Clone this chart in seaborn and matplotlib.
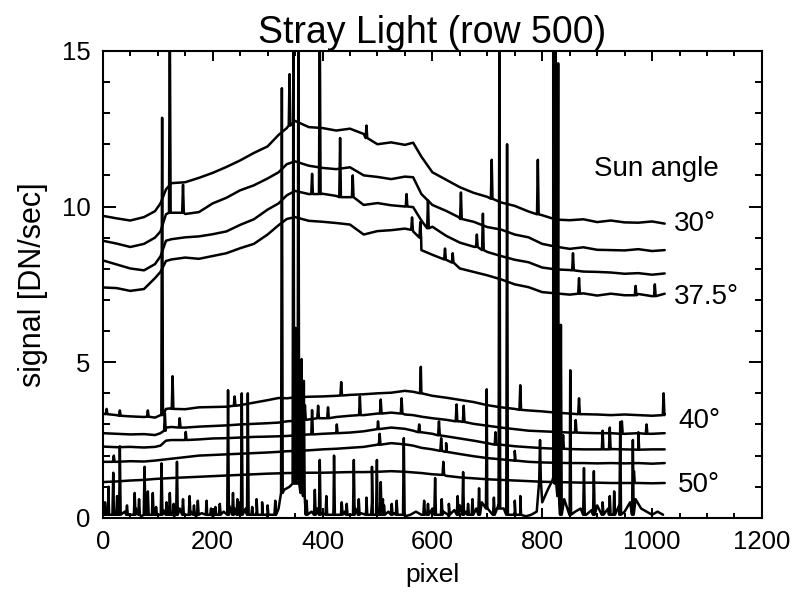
import numpy as np
import pandas as pd
import matplotlib
matplotlib.use("Agg")
import matplotlib.pyplot as plt
import seaborn as sns
from matplotlib.ticker import MultipleLocator

X_GRID = [0, 25, 50, 75, 95, 105, 115, 125, 150, 175, 200, 225, 250, 275, 300,
          320, 335, 350, 375, 400, 425, 450, 475, 500, 525, 550, 565, 580, 600,
          625, 650, 675, 700, 725, 750, 775, 800, 825, 850, 875, 900, 925, 950,
          975, 1000, 1023]

# signal [DN/sec] along row 500, one trace per sun angle (top to bottom)
S1 = [9.70, 9.62, 9.55, 9.66, 9.85, 10.10, 10.55, 10.75, 10.78, 10.92, 11.08, 11.27,
      11.48, 11.72, 11.93, 12.30, 12.52, 12.75, 12.55, 12.52, 12.44, 12.50, 12.33,
      12.00, 12.06, 11.98, 12.05, 11.60, 11.10, 10.86, 10.62, 10.44, 10.31, 10.13,
      10.02, 9.84, 9.72, 9.58, 9.56, 9.59, 9.50, 9.55, 9.49, 9.48, 9.52, 9.45]
S2 = [8.90, 8.81, 8.70, 8.80, 9.00, 9.20, 9.75, 9.80, 9.76, 9.82, 10.10, 10.28,
      10.52, 10.68, 10.90, 11.10, 11.36, 11.45, 11.31, 11.24, 11.20, 11.26, 11.00,
      10.95, 10.88, 10.96, 10.94, 10.40, 10.05, 9.86, 9.64, 9.51, 9.34, 9.26, 9.10,
      9.01, 8.80, 8.71, 8.64, 8.69, 8.61, 8.60, 8.59, 8.63, 8.57, 8.60]
S3 = [8.27, 8.14, 8.01, 7.95, 8.15, 8.40, 8.90, 8.95, 9.01, 9.04, 9.11, 9.20,
      9.41, 9.59, 9.90, 10.10, 10.36, 10.50, 10.40, 10.41, 10.34, 10.30, 10.05,
      10.11, 10.04, 10.00, 9.98, 9.55, 9.35, 9.06, 8.84, 8.71, 8.54, 8.41, 8.29,
      8.21, 8.04, 7.98, 7.96, 7.91, 7.90, 7.88, 7.84, 7.86, 7.81, 7.85]
S4 = [7.40, 7.38, 7.29, 7.35, 7.70, 7.90, 8.25, 8.30, 8.36, 8.32, 8.41, 8.50,
      8.66, 8.80, 9.10, 9.40, 9.60, 9.66, 9.54, 9.51, 9.47, 9.42, 9.10, 9.21,
      9.24, 9.29, 9.20, 8.60, 8.45, 8.29, 8.01, 7.90, 7.79, 7.66, 7.50, 7.41,
      7.25, 7.21, 7.17, 7.21, 7.14, 7.20, 7.15, 7.19, 7.12, 7.20]
S5 = [3.35, 3.30, 3.26, 3.24, 3.22, 3.30, 3.50, 3.52, 3.49, 3.55, 3.56, 3.57,
      3.62, 3.70, 3.78, 3.85, 3.84, 3.87, 3.89, 3.90, 3.92, 3.95, 3.97, 4.00,
      4.02, 4.08, 4.05, 4.00, 3.92, 3.86, 3.79, 3.72, 3.62, 3.55, 3.50, 3.45,
      3.42, 3.38, 3.35, 3.33, 3.32, 3.30, 3.32, 3.30, 3.28, 3.32]
S6 = [2.72, 2.70, 2.68, 2.69, 2.66, 2.72, 2.90, 2.92, 2.90, 2.93, 2.95, 2.97,
      3.00, 3.02, 3.04, 3.06, 3.10, 3.12, 3.16, 3.20, 3.24, 3.28, 3.30, 3.35,
      3.38, 3.32, 3.30, 3.25, 3.20, 3.15, 3.10, 3.02, 2.96, 2.90, 2.85, 2.80,
      2.78, 2.76, 2.74, 2.73, 2.72, 2.72, 2.70, 2.72, 2.70, 2.72]
S7 = [2.29, 2.27, 2.28, 2.26, 2.28, 2.32, 2.48, 2.50, 2.51, 2.52, 2.55, 2.56,
      2.58, 2.60, 2.61, 2.62, 2.63, 2.65, 2.68, 2.70, 2.72, 2.74, 2.78, 2.85,
      2.90, 2.86, 2.80, 2.75, 2.70, 2.62, 2.55, 2.48, 2.40, 2.35, 2.30, 2.27,
      2.24, 2.22, 2.21, 2.20, 2.20, 2.21, 2.20, 2.19, 2.20, 2.20]
S8 = [1.80, 1.80, 1.82, 1.81, 1.84, 1.86, 1.88, 1.90, 1.95, 2.00, 2.02, 2.04,
      2.06, 2.08, 2.10, 2.12, 2.14, 2.15, 2.17, 2.20, 2.22, 2.25, 2.28, 2.35,
      2.40, 2.36, 2.32, 2.25, 2.20, 2.12, 2.05, 1.98, 1.92, 1.88, 1.84, 1.80,
      1.78, 1.77, 1.76, 1.76, 1.75, 1.76, 1.75, 1.76, 1.74, 1.76]
S9 = [1.15, 1.17, 1.20, 1.22, 1.25, 1.26, 1.27, 1.28, 1.30, 1.32, 1.34, 1.36,
      1.38, 1.40, 1.42, 1.43, 1.44, 1.44, 1.45, 1.45, 1.46, 1.47, 1.47, 1.48,
      1.50, 1.48, 1.46, 1.44, 1.40, 1.35, 1.30, 1.27, 1.24, 1.22, 1.20, 1.18,
      1.16, 1.15, 1.14, 1.13, 1.13, 1.12, 1.12, 1.12, 1.11, 1.12]

# dark trace (no sun), read every 10 pixels
X_DARK = [0, 10, 20, 30, 40, 50, 60, 70, 80, 90, 100, 110, 120, 130, 140, 150,
          160, 170, 180, 190, 200, 210, 220, 230, 240, 250, 260, 270, 280, 290,
          300, 310, 320, 330, 340, 350, 360, 370, 380, 390, 400, 410, 420, 430,
          440, 450, 460, 470, 480, 490, 500, 510, 520, 530, 540, 550, 560, 570,
          580, 590, 600, 610, 620, 630, 640, 650, 660, 670, 680, 690, 700, 710,
          720, 730, 740, 750, 760, 770, 780, 790, 800, 810, 820, 830, 840, 850,
          860, 870, 880, 890, 900, 910, 920, 930, 940, 950, 960, 970, 980, 990,
          1000, 1010, 1020]
S10 = [0.10, 0.60, 0.30, 0.50, 0.20, 0.10, 0.30, 0.05, 0.20, 0.40, 0.10, 0.25,
       0.15, 0.05, 0.30, 0.10, 0.20, 0.05, 0.15, 0.10, 0.05, 0.10, 0.20, 0.40,
       0.30, 0.50, 0.30, 0.10, 0.20, 0.10, 0.05, 0.10, 0.30, 0.90, 1.00, 1.20,
       0.80, 0.30, 0.20, 0.30, 0.15, 0.10, 0.30, 0.10, 0.20, 0.10, 0.30, 0.15,
       0.30, 0.50, 0.40, 0.60, 0.20, 0.15, 0.10, 0.05, 0.10, 0.20, 0.10, 0.15,
       0.30, 0.10, 0.20, 0.05, 0.25, 0.40, 0.20, 0.10, 0.30, 0.50, 0.30, 0.10,
       0.40, 0.30, 0.10, 0.20, 0.15, 0.05, 0.10, 0.20, 0.50, 0.90, 1.30, 1.10,
       0.60, 0.30, 0.20, 0.30, 0.10, 0.25, 0.40, 0.20, 0.30, 0.15, 0.40, 0.20,
       0.50, 0.60, 0.30, 0.20, 0.10, 0.20, 0.10]

SERIES = ["s1", "s2", "s3", "s4", "s5", "s6", "s7", "s8", "s9", "s10"]
VALUES = [S1, S2, S3, S4, S5, S6, S7, S8, S9, S10]
XS = [X_GRID] * 9 + [X_DARK]

# narrow spikes (cosmic rays / hot pixels): trace, pixel, level at foot, peak
SPIKE_SERIES = (["s2", "s2", "s1", "s3", "s3", "s3", "s3", "s1", "s3", "s4",
                 "s4", "s3", "s4", "s4", "s2", "s3", "s3", "s1", "s1", "s3",
                 "s4", "s4", "s4"]
                + ["s5"] * 11 + ["s6"] * 13 + ["s7"] * 11 + ["s8"] * 5 + ["s9"] * 2
                + ["s10"] * 87)
SPIKE_X = ([122, 146, 340, 381, 395, 432, 455, 480, 553, 563,
            578, 592, 623, 637, 652, 681, 692, 708, 792, 856,
            867, 970, 1005]
           + [7, 31, 82, 108, 127, 240, 434, 579, 760, 867, 1021]
           + [113, 140, 368, 392, 410, 468, 506, 544, 644, 657, 861, 945, 990]
           + [151, 381, 426, 501, 576, 612, 715, 838, 910, 923, 975]
           + [20, 504, 616, 625, 750]
           + [620, 967]
           + [10, 19, 31, 58, 76, 82, 91, 107, 122, 135, 146, 158, 173, 189, 205,
              228, 237, 253, 264, 280, 290, 326, 347, 351, 356, 362, 366, 371, 386,
              395, 407, 421, 444, 457, 480, 490, 499, 506, 526, 535, 548, 592, 605,
              617, 646, 656, 665, 673, 685, 699, 722, 736, 750, 760, 796, 820, 824,
              829, 834, 851, 876, 894, 910, 923, 931, 942, 965,
              4, 26, 44, 66, 97, 116, 129, 166, 197, 213, 245, 272, 300, 314,
              435, 466, 512, 585, 630, 712, 882, 903, 957, 1000])
SPIKE_LO = ([9.80, 9.80, 12.60, 10.40, 10.40, 10.30, 10.30, 12.20, 10.00, 9.25,
             9.00, 9.30, 8.30, 8.20, 9.60, 8.70, 8.60, 10.25, 9.75, 7.95,
             7.20, 7.15, 7.12]
            + [3.33, 3.28, 3.25, 3.30, 3.50, 3.60, 3.93, 4.00, 3.47, 3.33, 3.30]
            + [2.80, 2.90, 3.15, 3.20, 3.20, 3.30, 3.35, 3.35, 3.10, 3.08, 2.74,
               2.70, 2.70]
            + [2.50, 2.68, 2.72, 2.85, 2.75, 2.65, 2.35, 2.22, 2.20, 2.20, 2.19]
            + [1.80, 2.35, 2.15, 2.12, 1.84]
            + [1.38, 1.12]
            + [0.10] * 21 + [0.80, 1.10, 1.10, 1.10, 0.90, 0.70] + [0.10] * 22
            + [0.30, 0.30, 0.10, 0.10, 0.10, 1.20, 1.20, 1.10, 0.70]
            + [0.10] * 9 + [0.10] * 24)
SPIKE_HI = ([16.0, 10.70, 14.25, 11.05, 16.0, 12.20, 11.00, 12.60, 10.40, 9.65,
             9.50, 10.20, 8.65, 8.50, 10.45, 9.10, 9.77, 11.50, 11.50, 8.50,
             7.70, 7.45, 7.50]
            + [3.50, 3.45, 3.45, 12.85, 4.55, 3.90, 4.36, 4.85, 4.26, 3.84, 4.00]
            + [3.36, 3.20, 3.62, 3.60, 3.55, 3.90, 3.80, 3.84, 3.64, 3.60, 3.14,
               3.10, 3.00]
            + [2.76, 3.46, 3.00, 3.10, 3.00, 3.10, 2.75, 2.66, 2.80, 2.90, 2.75]
            + [2.00, 2.70, 2.56, 2.40, 2.15]
            + [1.80, 1.50]
            + [1.00, 1.45, 2.30, 0.80, 1.64, 0.85, 0.80, 1.75, 0.80, 1.80, 0.60,
               0.70, 0.55, 0.55, 0.35, 4.10, 0.80, 4.00, 4.00, 0.60, 0.50, 13.80,
               16.0, 6.10, 16.0, 5.10, 4.40, 0.55, 0.90, 1.86, 0.70, 2.00, 0.45,
               1.86, 0.65, 1.64, 1.86, 1.15, 0.45, 0.55, 2.56, 0.45, 1.28, 0.60,
               0.70, 1.47, 0.45, 0.60, 0.95, 4.13, 16.0, 12.00, 0.55, 0.70, 2.50,
               16.0, 16.0, 14.60, 6.20, 4.74, 1.60, 1.50, 0.50, 0.70, 0.85, 3.08,
               2.50,
               0.50, 0.70, 0.40, 0.60, 0.35, 0.50, 0.45, 0.40, 0.30, 0.45, 0.60,
               0.35, 0.40, 0.55, 0.50, 0.60, 0.40, 0.55, 0.45, 0.65, 0.50, 0.40,
               0.60, 0.45])

# trace labels on the right
LABEL_TEXT = ["Sun angle", "30°", "37.5°", "40°", "50°"]
LABEL_X = [895, 1040, 1040, 1047, 1047]
LABEL_Y = [11.2, 9.45, 7.1, 3.1, 1.05]


def build_frame():
    rows = []
    for name, xs, vals in zip(SERIES, XS, VALUES):
        for x, y in zip(xs, vals):
            rows.append((name, x, y))
    for name, x, lo, hi in zip(SPIKE_SERIES, SPIKE_X, SPIKE_LO, SPIKE_HI):
        rows += [(name, x - 1.5, lo), (name, x, hi), (name, x + 1.5, lo)]
    df = pd.DataFrame(rows, columns=["series", "pixel", "signal"])
    return df.sort_values(["series", "pixel"], kind="stable")


df = build_frame()

sns.set_style("ticks")
plt.rcParams["font.family"] = ["Liberation Sans", "DejaVu Sans"]
plt.rcParams.update({"text.color": "black", "axes.labelcolor": "black",
                     "xtick.color": "black", "ytick.color": "black"})

fig, ax = plt.subplots(figsize=(7.97, 5.98), dpi=100)
fig.subplots_adjust(left=0.129, right=0.956, bottom=0.134, top=0.915)

sns.lineplot(data=df, x="pixel", y="signal", units="series", estimator=None,
             sort=False, color="black", linewidth=1.8, ax=ax, legend=False)

for txt, x, y in zip(LABEL_TEXT, LABEL_X, LABEL_Y):
    ax.text(x, y, txt, fontsize=20, ha="left", va="center", color="black")

ax.set_xlim(0, 1200)
ax.set_ylim(0, 15)
ax.xaxis.set_major_locator(MultipleLocator(200))
ax.xaxis.set_minor_locator(MultipleLocator(50))
ax.yaxis.set_major_locator(MultipleLocator(5))
ax.yaxis.set_minor_locator(MultipleLocator(1))
ax.tick_params(which="both", direction="in", top=True, right=True,
               width=1.4, color="black", labelcolor="black", labelsize=18.5, pad=9)
ax.tick_params(axis="x", which="major", length=7)
ax.tick_params(axis="x", which="minor", length=3.5)
ax.tick_params(axis="y", which="major", length=9.5)
ax.tick_params(axis="y", which="minor", length=5)
for sp in ax.spines.values():
    sp.set_linewidth(1.5)
    sp.set_color("black")

ax.set_xlabel("pixel", fontsize=19, labelpad=6, color="black")
ax.set_ylabel("signal [DN/sec]", fontsize=22, labelpad=10, color="black")
ax.set_title("Stray Light (row 500)", fontsize=27, pad=3, color="black")

plt.savefig("out.png", dpi=100)
plt.close()
